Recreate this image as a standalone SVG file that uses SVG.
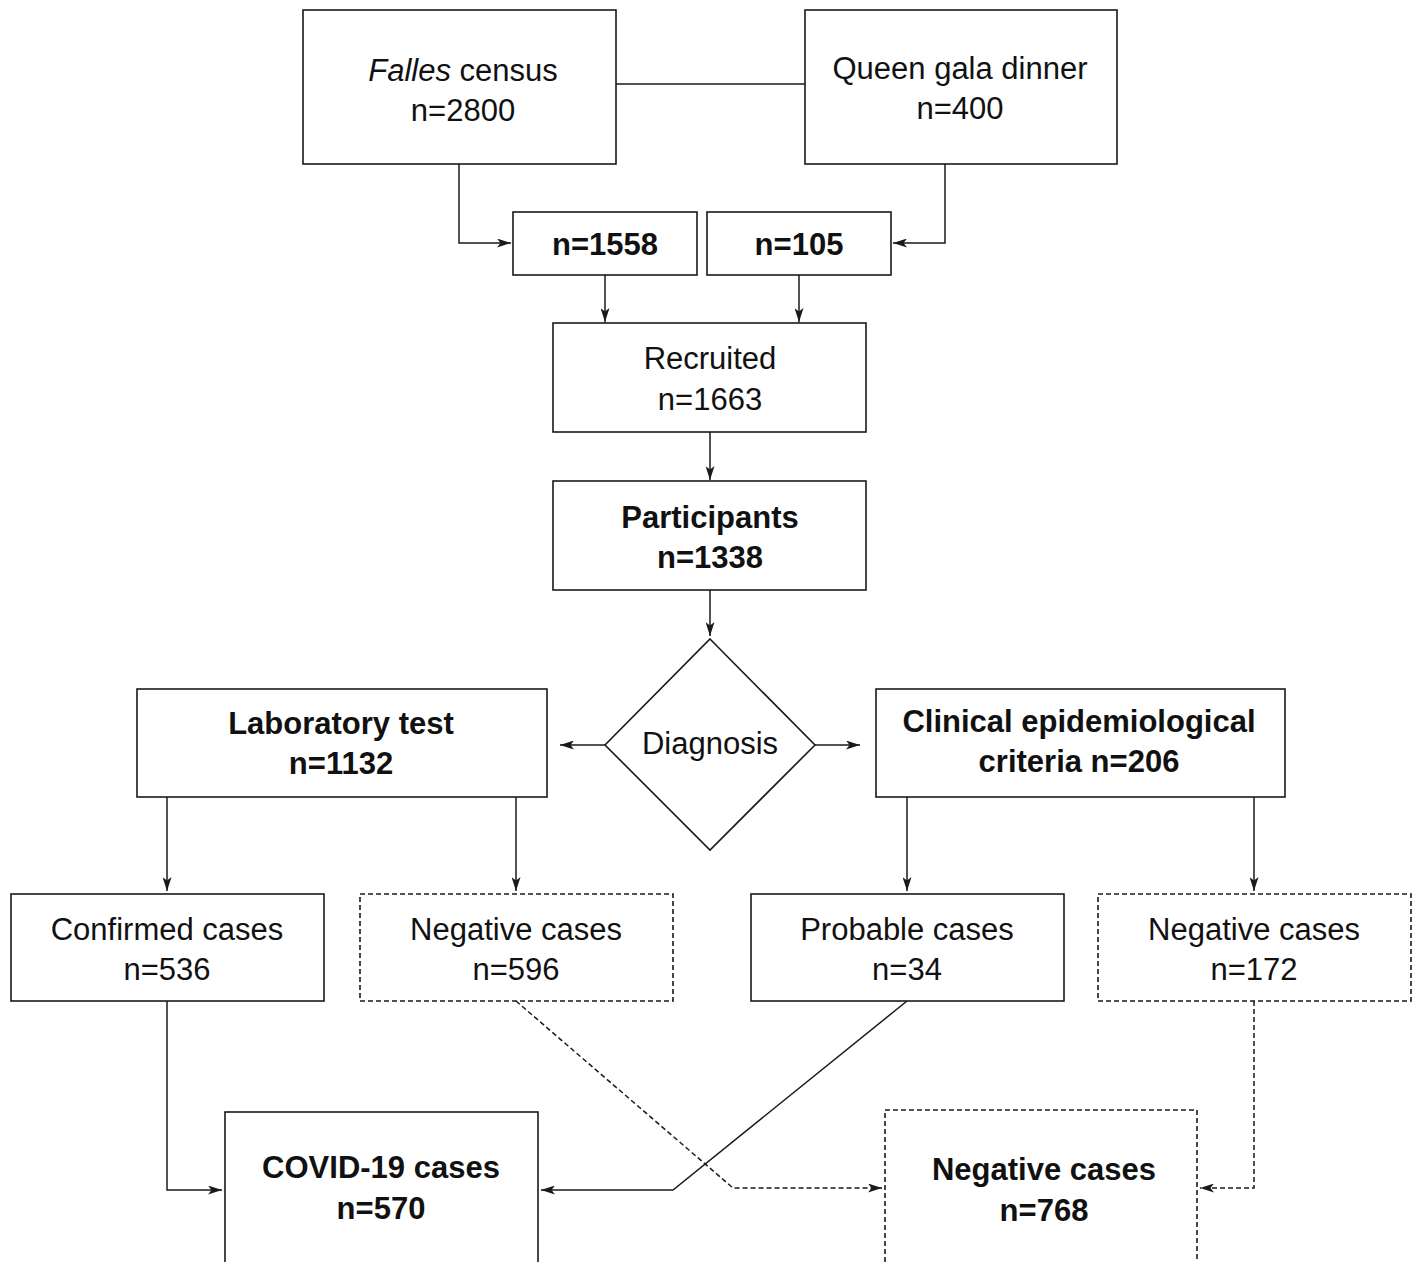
<svg xmlns="http://www.w3.org/2000/svg" width="1414" height="1262" viewBox="0 0 1414 1262">
<style>
.box{fill:#fff;stroke:#1a1a1a;stroke-width:1.6}
.dash{stroke-dasharray:5 3}
.t{font-family:"Liberation Sans",Arial,sans-serif;font-size:31px;fill:#111;text-anchor:middle}
.b{font-weight:bold}
.c{fill:none;stroke:#1a1a1a;stroke-width:1.5}
</style>
<defs>
<marker id="ah" viewBox="0 0 14 9" refX="14" refY="4.5" markerWidth="14" markerHeight="9" markerUnits="userSpaceOnUse" orient="auto">
<path d="M0,0 L14,4.5 L0,9 L3.5,4.5 z" fill="#1a1a1a"/>
</marker>
</defs>
<rect width="1414" height="1262" fill="#fff"/>
<g id="connectors">
<line class="c" x1="616" y1="84" x2="805" y2="84"/>
<polyline class="c" points="459,164 459,243 511,243" marker-end="url(#ah)"/>
<polyline class="c" points="945,164 945,243 893,243" marker-end="url(#ah)"/>
<line class="c" x1="605" y1="275" x2="605" y2="322" marker-end="url(#ah)"/>
<line class="c" x1="799" y1="275" x2="799" y2="322" marker-end="url(#ah)"/>
<line class="c" x1="710" y1="432" x2="710" y2="480" marker-end="url(#ah)"/>
<line class="c" x1="710" y1="590" x2="710" y2="636" marker-end="url(#ah)"/>
<line class="c" x1="605" y1="745" x2="560" y2="745" marker-end="url(#ah)"/>
<line class="c" x1="815" y1="745" x2="860" y2="745" marker-end="url(#ah)"/>
<line class="c" x1="167" y1="797" x2="167" y2="891" marker-end="url(#ah)"/>
<line class="c" x1="516" y1="797" x2="516" y2="891" marker-end="url(#ah)"/>
<line class="c" x1="907" y1="797" x2="907" y2="891" marker-end="url(#ah)"/>
<line class="c" x1="1254" y1="797" x2="1254" y2="891" marker-end="url(#ah)"/>
<polyline class="c" points="167,1001 167,1190 222,1190" marker-end="url(#ah)"/>
<polyline class="c" points="907,1001 673,1190 541,1190" marker-end="url(#ah)"/>
<polyline class="c dash" points="516,1001 733,1188 882,1188" marker-end="url(#ah)"/>
<polyline class="c dash" points="1254,1001 1254,1188 1200,1188" marker-end="url(#ah)"/>
</g>
<g id="falles"><rect class="box" x="303" y="10" width="313" height="154"/><text class="t" x="463" y="81"><tspan font-style="italic">Falles</tspan> census</text><text class="t" x="463" y="121">n=2800</text></g>
<g id="queen"><rect class="box" x="805" y="10" width="312" height="154"/><text class="t" x="960" y="79">Queen gala dinner</text><text class="t" x="960" y="119">n=400</text></g>
<g id="n1558"><rect class="box" x="513" y="212" width="184" height="63"/><text class="t b" x="605" y="255">n=1558</text></g>
<g id="n105"><rect class="box" x="707" y="212" width="184" height="63"/><text class="t b" x="799" y="255">n=105</text></g>
<g id="recruited"><rect class="box" x="553" y="323" width="313" height="109"/><text class="t" x="710" y="369">Recruited</text><text class="t" x="710" y="410">n=1663</text></g>
<g id="participants"><rect class="box" x="553" y="481" width="313" height="109"/><text class="t b" x="710" y="528">Participants</text><text class="t b" x="710" y="568">n=1338</text></g>
<g id="diagnosis"><polygon class="box" points="710,639 815,745 710,850 605,745"/><text class="t" x="710" y="754">Diagnosis</text></g>
<g id="lab"><rect class="box" x="137" y="689" width="410" height="108"/><text class="t b" x="341" y="734">Laboratory test</text><text class="t b" x="341" y="774">n=1132</text></g>
<g id="clinical"><rect class="box" x="876" y="689" width="409" height="108"/><text class="t b" x="1079" y="732">Clinical epidemiological</text><text class="t b" x="1079" y="772">criteria n=206</text></g>
<g id="confirmed"><rect class="box" x="11" y="894" width="313" height="107"/><text class="t" x="167" y="940">Confirmed cases</text><text class="t" x="167" y="980">n=536</text></g>
<g id="neg1"><rect class="box dash" x="360" y="894" width="313" height="107"/><text class="t" x="516" y="940">Negative cases</text><text class="t" x="516" y="980">n=596</text></g>
<g id="probable"><rect class="box" x="751" y="894" width="313" height="107"/><text class="t" x="907" y="940">Probable cases</text><text class="t" x="907" y="980">n=34</text></g>
<g id="neg2"><rect class="box dash" x="1098" y="894" width="313" height="107"/><text class="t" x="1254" y="940">Negative cases</text><text class="t" x="1254" y="980">n=172</text></g>
<g id="covid"><rect class="box" x="225" y="1112" width="313" height="170"/><text class="t b" x="381" y="1178">COVID-19 cases</text><text class="t b" x="381" y="1219">n=570</text></g>
<g id="negtotal"><rect class="box dash" x="885" y="1110" width="312" height="172"/><text class="t b" x="1044" y="1180">Negative cases</text><text class="t b" x="1044" y="1221">n=768</text></g>
</svg>
